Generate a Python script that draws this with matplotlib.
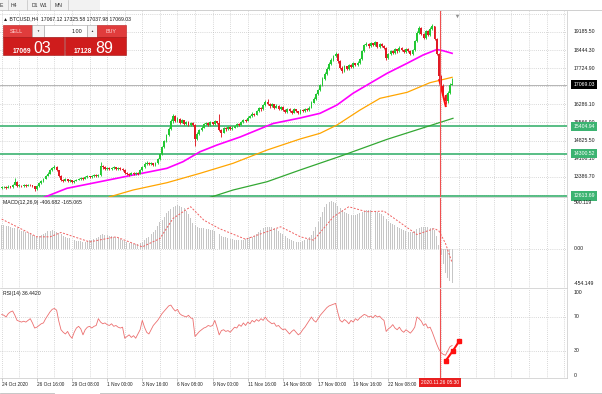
import numpy as np
import matplotlib
matplotlib.use("Agg")
import matplotlib.pyplot as plt
from matplotlib.patches import Rectangle

plt.rcParams['font.family'] = ['Liberation Sans', 'DejaVu Sans']

# BTCUSD H4 - captura de MT4 con MACD y RSI

W, H = 602, 394
CHART_W = 567

# ---- datos de velas (una por barra H4, barra 0 = 24 Oct 2020 00:00) ----
first_open = 12940
closes = [
    12960, 12985, 12950, 12990, 12975, 13060, 13180, 13020,
    13030, 13010, 13045, 13020, 13060, 13035, 13000, 12880,
    13010, 13120, 13200, 13300, 13420, 13510, 13640, 13720,
    13790, 13650, 13420, 13260, 13230, 13280, 13200, 13250,
    13180, 13230, 13270, 13300, 13340, 13310, 13360, 13400,
    13370, 13420, 13450, 13400, 13460, 13800, 13760, 13700,
    13740, 13690, 13720, 13760, 13700, 13730, 13680, 13660,
    13540, 13500, 13470, 13520, 13490, 13530, 13510, 13650,
    13780, 13900, 13950, 13880, 13920, 13860, 13940, 14080,
    14300, 14560, 14800, 15050, 15300, 15600, 15800, 15620,
    15700, 15550, 15640, 15500, 15580, 15460, 15520, 15450,
    14900, 15100, 15250, 15350, 15480, 15520, 15450, 15560,
    15480, 15600, 15520, 15250, 15150, 15320, 15280, 15380,
    15300, 15350, 15420, 15500, 15460, 15580, 15660, 15620,
    15750, 15820, 15900, 15860, 16000, 16120, 16080, 16250,
    16380, 16300, 16200, 16280, 16150, 16230, 16100, 16180,
    16050, 15980, 16100, 16020, 15950, 16080, 16000, 15930,
    16060, 16000, 16080, 16050, 16150, 16350, 16500, 16680,
    16850, 17050, 17300, 17500, 17700, 17900, 18050, 18200,
    18300, 18000, 17750, 17600, 17800, 17700, 17850, 17780,
    17920, 17850, 17950, 18100, 18400, 18650, 18700, 18600,
    18720, 18650, 18760, 18580, 18700, 18620, 18550, 18150,
    18300, 18420, 18350, 18480, 18400, 18550, 18450, 18380,
    18500, 18420, 18300, 18450, 18800, 19150, 19350, 19100,
    18950, 19200, 19050, 19300, 19400, 18900, 18300, 17400,
    17000, 16650, 16400, 16750, 17067, 17069.03,
]
highs = [
    13010, 13030, 13020, 13040, 13030, 13100, 13330, 13200,
    13080, 13070, 13090, 13080, 13110, 13090, 13060, 13020,
    13050, 13160, 13250, 13340, 13470, 13560, 13700, 13790,
    13840, 13810, 13670, 13440, 13300, 13330, 13300, 13290,
    13270, 13270, 13310, 13350, 13380, 13370, 13400, 13450,
    13430, 13460, 13500, 13480, 13500, 13960, 13850, 13800,
    13790, 13770, 13770, 13810, 13790, 13780, 13760, 13720,
    13690, 13580, 13540, 13570, 13560, 13580, 13570, 13700,
    13830, 13960, 14010, 13990, 13970, 13950, 13990, 14130,
    14350, 14620, 14870, 15110, 15360, 15680, 15900, 15850,
    15760, 15730, 15700, 15670, 15630, 15600, 15570, 15560,
    15480, 15160, 15300, 15410, 15530, 15580, 15560, 15610,
    15590, 15650, 15630, 15880, 15300, 15370, 15360, 15430,
    15410, 15400, 15470, 15550, 15540, 15630, 15710, 15700,
    15800, 15870, 15960, 15940, 16050, 16170, 16160, 16300,
    16440, 16480, 16340, 16330, 16300, 16280, 16260, 16230,
    16200, 16080, 16150, 16130, 16050, 16130, 16110, 16030,
    16110, 16090, 16130, 16120, 16200, 16400, 16560, 16740,
    16910, 17110, 17370, 17560, 17770, 17960, 18120, 18260,
    18380, 18340, 18040, 17800, 17850, 17830, 17900, 17880,
    17970, 17950, 18000, 18150, 18460, 18710, 18770, 18740,
    18780, 18750, 18820, 18790, 18750, 18730, 18660, 18580,
    18350, 18470, 18460, 18530, 18510, 18600, 18580, 18480,
    18550, 18530, 18450, 18500, 18870, 19220, 19420, 19380,
    19150, 19260, 19240, 19360, 19480, 19430, 18950, 18350,
    17450, 17080, 16700, 16800, 17120, 17325.58,
]
lows = [
    12900, 12930, 12910, 12920, 12940, 12950, 13040, 12980,
    12990, 12970, 12990, 12980, 13000, 13000, 12960, 12830,
    12860, 12990, 13100, 13180, 13280, 13400, 13490, 13600,
    13690, 13600, 13380, 13200, 13180, 13200, 13160, 13170,
    13130, 13150, 13200, 13240, 13270, 13270, 13290, 13330,
    13330, 13340, 13390, 13360, 13380, 13430, 13700, 13650,
    13660, 13640, 13650, 13690, 13660, 13660, 13640, 13610,
    13480, 13450, 13420, 13440, 13450, 13460, 13470, 13480,
    13620, 13750, 13860, 13840, 13850, 13820, 13830, 13910,
    14050, 14270, 14520, 14760, 15000, 15260, 15550, 15580,
    15580, 15500, 15520, 15450, 15470, 15420, 15430, 15400,
    14600, 14850, 15060, 15220, 15320, 15450, 15400, 15420,
    15440, 15460, 15480, 15200, 14980, 15120, 15230, 15250,
    15260, 15270, 15320, 15390, 15420, 15440, 15550, 15580,
    15600, 15720, 15790, 15820, 15840, 15970, 16030, 16050,
    16220, 16250, 16150, 16170, 16100, 16120, 16050, 16070,
    16000, 15920, 15950, 15980, 15900, 15920, 15960, 15880,
    15900, 15960, 15970, 16010, 16020, 16120, 16320, 16460,
    16640, 16820, 17020, 17260, 17460, 17660, 17860, 18010,
    18160, 17950, 17700, 17520, 17560, 17650, 17660, 17730,
    17740, 17800, 17810, 17910, 18060, 18360, 18600, 18550,
    18560, 18600, 18620, 18540, 18550, 18580, 18500, 18050,
    18110, 18260, 18300, 18310, 18350, 18360, 18400, 18330,
    18340, 18370, 18250, 18260, 18410, 18760, 19100, 19050,
    18900, 18910, 19000, 19010, 19250, 18850, 18250, 17300,
    16900, 16550, 16300, 16350, 16700, 17037.98,
]

ma_magenta_bars = [17, 29.7, 44.7, 59.8, 67.5, 75.2, 82.5, 90.3, 98, 108.5, 123.5,
                   135.8, 144.9, 152.6, 159.9, 166.3, 175.4, 184.5, 191.8, 198.1, 200.9, 205]
ma_magenta_vals = [12480, 12921, 13185, 13453, 13585, 13721, 13985, 14385, 14653, 14973, 15513,
                   15733, 15921, 16253, 16721, 17053, 17521, 17921, 18253, 18473, 18425, 18321]
ma_orange_bars = [47, 49.3, 59.8, 75.2, 90.3, 105.3, 120.8, 135.8, 144.9, 152.6, 163.1,
                  172.2, 184.5, 194.9, 205]
ma_orange_vals = [12493, 12585, 12853, 13145, 13521, 13921, 14453, 14893, 15121, 15453, 16053,
                  16521, 16760, 17145, 17361]
ma_green_bars = [92.5, 105.3, 120.8, 135.8, 154, 175.4, 190.4, 205.4]
ma_green_vals = [12493, 12853, 13185, 13653, 14200, 14880, 15300, 15721]

# niveles horizontales
levels = [15404.94, 14300.52, 12613.69]
bid = 17069.03
price_ticks = [19185.50, 18444.30, 17724.90, 16286.10, 15566.90, 14825.50, 14106.10, 13386.70]
price_grid = [19904.9, 19185.50, 18444.30, 17724.90, 17005.5, 16286.10, 15566.90,
              14825.50, 14106.10, 13386.70, 12667.3]

# MACD (histograma = linea principal, punteada = senal)
macd_hist = [
    280, 275, 268, 260, 250, 240, 245, 235, 222, 210, 200, 190, 180, 170, 160,
    150, 140, 145, 155, 170, 185, 200, 210,
    215, 210, 195, 180, 165,
    150, 140, 128, 118, 110, 100, 92, 88, 85, 82, 80,
    85, 95, 105, 115, 125, 135, 160,
    165, 160, 155, 150, 145, 140, 135, 125, 115, 105,
    90, 78, 68, 60, 55, 52, 55, 65, 80,
    100, 120, 140, 165, 190, 220, 260, 310,
    330, 370, 410, 440, 465, 485, 500, 505, 500, 490, 470, 440, 400, 360,
    300, 270, 255, 245, 240, 235, 230, 225, 220, 215, 210, 190, 170,
    150, 140, 130, 122, 115, 110, 105, 100, 98, 100, 105, 110, 120, 130, 140,
    150, 170, 195, 220, 240, 250, 255, 255, 250, 240, 225, 205, 185, 165,
    145, 125, 110, 95, 85, 78, 75, 80, 90, 100, 110, 130, 160, 200,
    250, 310, 370, 430, 480, 520, 545, 550, 545, 530, 500, 470, 445, 425, 410,
    400, 395, 390, 395, 400, 410, 425, 440, 450, 455, 450, 445, 440, 430, 415, 400, 380, 350,
    320, 300, 285, 270, 255, 240, 225, 215, 205, 195, 190, 195, 205, 225, 240,
    250, 255, 255, 250, 245, 240, 220, 150,
    40, -80, -180, -280, -340, -380, -406.682,
]
signal_bars = [0, 16, 22, 27, 40, 52, 64, 72, 78, 86, 92, 99, 111, 127, 136, 142,
               151, 158, 166, 174, 189, 197, 199, 202, 205]
signal_vals = [344, 137, 137, 188, 78, 137, 20, 117, 352, 488, 332, 234, 109, 254, 137, 98,
               371, 488, 430, 437, 164, 234, 205, 60, -165.065]

# RSI(14)
rsi = [
    73, 72, 70, 74, 76, 77,
    72, 66, 65, 64, 65, 64, 66, 68,
    63, 57, 58, 60, 62, 63,
    68, 72, 76, 79, 80,
    78, 65, 55,
    52, 50, 53, 48, 45,
    52, 57, 59, 56,
    49, 55, 58, 59, 57, 59, 60,
    68,
    64, 62, 63, 61, 60, 62, 59, 60, 58, 57, 58,
    45, 47, 49, 46, 48, 45, 50, 55,
    66, 58, 52, 50,
    55, 60, 63, 66, 70, 74, 77, 80, 83, 84,
    80, 77, 79, 74,
    72, 71, 70, 72, 69, 68,
    47, 50, 53, 55, 57, 58, 60, 59, 60,
    66, 58, 49,
    54, 55, 53, 54, 52, 55,
    58, 57, 61, 59, 63, 60, 64, 62, 66, 64, 67, 65, 68, 66, 70,
    66, 64, 62, 63, 59, 60, 57, 55, 56, 53,
    50, 53, 55, 52, 49, 51,
    55, 58, 62, 66, 70, 66, 64,
    68, 72, 75, 78, 81, 83, 84, 85, 86,
    75, 66,
    64, 67, 65, 62, 66, 64, 68, 66, 69, 71, 73,
    72, 70, 71, 69, 72, 70, 71, 68, 66,
    53,
    56, 58, 61, 57, 55, 58, 54, 52, 55, 53, 51, 54, 58,
    70, 68, 65, 60, 62, 57, 58,
    52, 45, 38, 32,
    28, 26, 25, 30, 35, 36.442,
]

# lineas rojas de divergencia
div_price_bars = [199.2, 202.1]
div_price_vals = [17254, 16214]
div_rsi_bars = [202, 205.3, 208.3]
div_rsi_vals = [18.2, 30, 41.8]

date_bars = [0, 16, 32, 48, 64, 80, 96, 112, 128, 144, 160, 176]
date_labels = ["24 Oct 2020", "26 Oct 16:00", "29 Oct 08:00", "1 Nov 00:00", "3 Nov 16:00",
               "6 Nov 08:00", "9 Nov 00:00", "11 Nov 16:00", "14 Nov 08:00", "17 Nov 00:00",
               "19 Nov 16:00", "22 Nov 08:00"]
vline_bar = 199.4
vline_label = "2020.11.26 05:30"

# ---- estilo ----
GRID = '#b4b4b4'
DOT = (0, (1, 2))
BULL = '#22c833'
BEAR = '#e01a24'
TXT = '#1a1a1a'
FS = 3.7
X_LEFT, X_RIGHT = -0.77, 257.3

fig = plt.figure(figsize=(W / 100, H / 100), dpi=100)
fig.patch.set_facecolor('white')


def panel(top, bottom, ylim):
    ax = fig.add_axes([0, 1 - bottom / H, CHART_W / W, (bottom - top) / H])
    ax.set_xlim(X_LEFT, X_RIGHT)
    ax.set_ylim(*ylim)
    ax.set_xticks([])
    ax.set_yticks([])
    for side in ('top', 'left'):
        ax.spines[side].set_visible(False)
    for side in ('right', 'bottom'):
        ax.spines[side].set_color('#c8c8c8')
        ax.spines[side].set_linewidth(0.5)
    for b in range(0, 257, 8):
        ax.axvline(b, color=GRID, ls=DOT, lw=0.5, zorder=0)
    ax.axvline(vline_bar, color='#f05050', lw=0.8, zorder=6)
    return ax


def rlabel(ax, y, txt, dy=0, va='center', color=TXT, box=None, z=4):
    ax.annotate(txt, xy=(1, y), xycoords=('axes fraction', 'data'),
                xytext=(4.6, dy), textcoords='offset points', ha='left', va=va,
                fontsize=FS, color=color, bbox=box, annotation_clip=False, zorder=z)


# ---- panel principal ----
ax = panel(11, 197, (12573.5, 20013.5))
for p in price_grid:
    ax.axhline(p, color=GRID, ls=DOT, lw=0.5, zorder=0)
for p in levels:
    ax.axhline(p, color='#3cb371', lw=1.2, zorder=1)
ax.axhline(bid, color='#a8a8a8', lw=0.6, zorder=1)

o = np.array([first_open] + closes[:-1], dtype=float)
c = np.array(closes, dtype=float)
hi = np.maximum(np.array(highs, dtype=float), np.maximum(o, c))
lo = np.minimum(np.array(lows, dtype=float), np.minimum(o, c))
x = np.arange(len(c))
col = np.where(c >= o, BULL, BEAR)
ax.vlines(x, lo, hi, colors=col, lw=0.65, zorder=3)
ax.bar(x, np.maximum(np.abs(c - o), 20), bottom=np.minimum(o, c), width=0.85,
       color=col, linewidth=0, zorder=3)

ax.plot(ma_green_bars, ma_green_vals, color='#33a833', lw=0.9, zorder=2)
ax.plot(ma_orange_bars, ma_orange_vals, color='#ffa500', lw=0.9, zorder=2)
ax.plot(ma_magenta_bars, ma_magenta_vals, color='#ff00ff', lw=1.2, zorder=2)
ax.plot(div_price_bars, div_price_vals, color='#ff1010', lw=1.5, zorder=5)

for p in price_ticks:
    rlabel(ax, p, f"{p:.2f}")
for p in levels:
    rlabel(ax, p, f"{p:.2f}", color='white', z=5,
           box=dict(boxstyle='square,pad=0.4', fc='#3cb371', ec='none'))
rlabel(ax, bid, f"{bid:.2f}", color='white', z=5,
       box=dict(boxstyle='square,pad=0.4', fc='black', ec='none'))

# ---- MACD ----
axm = panel(198, 287.5, (-454.149, 590.119))
axm.axhline(0, color=GRID, ls=DOT, lw=0.5, zorder=0)
axm.bar(np.arange(len(macd_hist)), macd_hist, width=0.45, color='#c6c6c6', linewidth=0, zorder=2)
axm.plot(signal_bars, signal_vals, color='#f06060', lw=0.7, ls=(0, (2, 1.6)), zorder=3)
rlabel(axm, 590.119, "590.119", va='top', dy=-1.5)
rlabel(axm, 0, "0.00")
rlabel(axm, -454.149, "-454.149", va='bottom', dy=1.2)

# ---- RSI ----
axr = panel(289, 378, (-1.76, 102.9))
for lv in (70, 30):
    axr.axhline(lv, color=GRID, ls=DOT, lw=0.5, zorder=0)
axr.plot(np.arange(len(rsi)), rsi, color='#ec6f6f', lw=0.6, zorder=3)
axr.plot(div_rsi_bars, div_rsi_vals, color='#ff1010', lw=1.5, marker='s', ms=2.2, zorder=5)
rlabel(axr, 100, "100", dy=-1)
rlabel(axr, 70, "70")
rlabel(axr, 30, "30")
rlabel(axr, 0, "0", dy=1)

axr.set_xticks(date_bars)
axr.set_xticklabels(date_labels, fontsize=3.4, color='#222222', ha='left')
axr.tick_params(axis='x', length=2, width=0.4, color='#999999', pad=0.8)
axr.annotate(vline_label, xy=(vline_bar, 0), xycoords=('data', 'axes fraction'),
             xytext=(0, -3.3), textcoords='offset points', ha='center', va='center',
             fontsize=3.5, color='white', annotation_clip=False, zorder=8,
             bbox=dict(boxstyle='square,pad=0.4', fc='#e82020', ec='none'))

# ---- elementos de la interfaz (coordenadas en pixeles) ----
ui = fig.add_axes([0, 0, 1, 1])
ui.set_xlim(0, W)
ui.set_ylim(H, 0)
ui.axis('off')
ui.patch.set_alpha(0)

ui.add_patch(Rectangle((0, 0), 100, 10, fc='#f2f2f2', ec='none'))
ui.plot([0, W], [10.2, 10.2], color='#c8c8c8', lw=0.6)
for xd in (8, 27, 50, 68):
    ui.plot([xd, xd], [0, 10], color='#c0c0c0', lw=0.5)
for xt, t in [(1.5, "E"), (14.2, "H4"), (35, "D1"), (44.2, "W1"), (59, "MN")]:
    ui.text(xt, 5.2, t, fontsize=FS, color='#333333', ha='center', va='center')

ui.text(3, 18.3, "\u25b2 BTCUSD,H4  17067.12 17325.58 17037.98 17069.03",
        fontsize=3.7, color=TXT, va='center')
ui.plot([457], [16], marker='v', ms=2.5, color='#909090', mec='none')

# panel de un clic
ui.add_patch(Rectangle((3, 25), 29, 11.7, fc='#e03c3c', ec='#b81818', lw=0.4))
ui.add_patch(Rectangle((32, 25), 12, 11.7, fc='#f4f4f4', ec='#a0a0a0', lw=0.4))
ui.add_patch(Rectangle((44, 25), 43, 11.7, fc='white', ec='#a0a0a0', lw=0.4))
ui.add_patch(Rectangle((87, 25), 10, 11.7, fc='#f4f4f4', ec='#a0a0a0', lw=0.4))
ui.add_patch(Rectangle((97, 25), 29, 11.7, fc='#e03c3c', ec='#b81818', lw=0.4))
ui.add_patch(Rectangle((3, 36.7), 60.5, 18.5, fc='#cf1c1c', ec='#a01010', lw=0.4))
ui.add_patch(Rectangle((65, 36.7), 61, 18.5, fc='#cf1c1c', ec='#a01010', lw=0.4))
ui.text(16.5, 31, "SELL", fontsize=3.9, color='#ffd8d8', ha='center', va='center')
ui.text(111, 31, "BUY", fontsize=3.9, color='#ffd8d8', ha='center', va='center')
ui.text(38, 31, "\u25bc", fontsize=2.2, color='#333333', ha='center', va='center')
ui.text(92, 31, "\u25b2", fontsize=2.2, color='#333333', ha='center', va='center')
ui.text(82.5, 31, "1.00", fontsize=3.9, color=TXT, ha='right', va='center')
ui.text(13, 52.5, "17069", fontsize=4.8, color='white', fontweight='bold', va='baseline')
ui.text(33.5, 53, "03", fontsize=11.5, color='white', va='baseline')
ui.text(73.5, 52.5, "17128", fontsize=4.8, color='white', fontweight='bold', va='baseline')
ui.text(95, 53, "89", fontsize=11.5, color='white', va='baseline')

ui.text(3, 202.3, "MACD(12,26,9) -406.682 -165.065", fontsize=FS, color=TXT, va='center')
ui.text(3, 293, "RSI(14) 36.4420", fontsize=FS, color=TXT, va='center')

ui.plot([0, 54, 54], [392.5, 392.5, 394], color='#b0b0b0', lw=0.5)
ui.plot([100, 100, W], [394, 392.5, 392.5], color='#b0b0b0', lw=0.5)

fig.savefig('out.png', dpi=100)
